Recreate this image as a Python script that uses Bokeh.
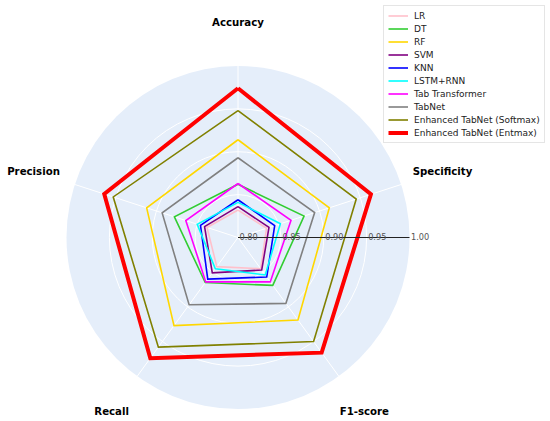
import numpy as np
from bokeh.plotting import figure
from bokeh.models import Range1d
from bokeh.embed import file_html
from bokeh.resources import INLINE
from bokeh.core.properties import value

# ---------------- data ----------------
categories = ["Accuracy", "Specificity", "F1-score", "Recall", "Precision"]
models = ["LR", "DT", "RF", "SVM", "KNN", "LSTM+RNN", "Tab Transformer",
          "TabNet", "Enhanced TabNet (Softmax)", "Enhanced TabNet (Entmax)"]
colors = ["#ffc0cb", "#32cd32", "#ffd700", "#800080", "#0000ff", "#00ffff",
          "#ff00ff", "#808080", "#808000", "#ff0000"]

lr_vals = [0.832, 0.835, 0.845, 0.842, 0.838]
dt_vals = [0.862, 0.881, 0.869, 0.865, 0.878]
rf_vals = [0.914, 0.912, 0.919, 0.927, 0.912]
svm_vals = [0.836, 0.838, 0.847, 0.851, 0.841]
knn_vals = [0.844, 0.845, 0.857, 0.860, 0.846]
lstm_vals = [0.841, 0.852, 0.854, 0.845, 0.850]
tabtr_vals = [0.863, 0.865, 0.864, 0.864, 0.864]
tabnet_vals = [0.893, 0.894, 0.895, 0.897, 0.893]
softmax_vals = [0.948, 0.945, 0.950, 0.958, 0.953]
entmax_vals = [0.974, 0.963, 0.966, 0.974, 0.964]
series = [lr_vals, dt_vals, rf_vals, svm_vals, knn_vals, lstm_vals,
          tabtr_vals, tabnet_vals, softmax_vals, entmax_vals]

r_ticks = [0.80, 0.85, 0.90, 0.95, 1.00]
tick_labels = ["0.80", "0.85", "0.90", "0.95", "1.00"]
r_min, r_max = 0.80, 1.00

# ---------------- layout ----------------
W, H = 550, 421
R = 171.5            # radius of the outer circle in px
cx, cy = 237.5, 237  # centre, from the top-left of the figure

p = figure(width=W, height=H,
           x_range=Range1d(-cx, W - cx), y_range=Range1d(-(H - cy), cy),
           output_backend="svg", toolbar_location=None, min_border=0,
           x_axis_location=None, y_axis_location=None)
p.grid.visible = False
p.outline_line_color = None
p.background_fill_color = "white"


def rad(v):
    return (np.asarray(v, dtype=float) - r_min) / (r_max - r_min) * R


n = len(categories)
theta = np.pi / 2 - np.arange(n) * 2 * np.pi / n

# background disc
p.circle(x=[0], y=[0], radius=R, fill_color="#e5eefa", line_color=None)
# grid circles
for t in r_ticks[1:-1]:
    p.circle(x=[0], y=[0], radius=float(rad(t)), fill_color=None,
             line_color="white", line_width=1)
# spokes
p.segment(x0=np.zeros(n), y0=np.zeros(n), x1=R * np.cos(theta),
          y1=R * np.sin(theta), line_color="white", line_width=1)

# series
for name, col, vals in zip(models, colors, series):
    rr = rad(vals)
    xs = list(rr * np.cos(theta)) + [rr[0] * np.cos(theta[0])]
    ys = list(rr * np.sin(theta)) + [rr[0] * np.sin(theta[0])]
    lw = 4 if "Entmax" in name else 1.6
    p.line(xs, ys, line_color=col, line_width=lw, line_join="miter",
           legend_label=name)

# radial axis line and tick labels
p.segment(x0=[0], y0=[0], x1=[R], y1=[0], line_color="#222222", line_width=1.1)
p.text(x=list(rad(r_ticks) + 1.5), y=[1.5] * len(r_ticks), text=tick_labels,
       text_font=value("DejaVu Sans"), text_font_size="8.2px",
       text_color="#555555", text_align="left", text_baseline="alphabetic")

# category labels
r_lab = 215
p.text(x=list(r_lab * np.cos(theta)), y=list(r_lab * np.sin(theta)),
       text=categories, text_font=value("DejaVu Sans"), text_font_style="bold",
       text_font_size="10.2px", text_color="black", text_align="center",
       text_baseline="middle")

# legend
lg = p.legend[0]
lg.location = (383, 278)
lg.margin = 0
lg.padding = 4
lg.spacing = 2
lg.label_height = 11
lg.glyph_height = 11
lg.glyph_width = 20
lg.label_standoff = 6
lg.label_text_font = "DejaVu Sans"
lg.label_text_font_size = "9px"
lg.label_text_color = "#222222"
lg.border_line_color = "#cccccc"
lg.border_line_width = 1
lg.background_fill_color = "white"
lg.background_fill_alpha = 0.8

open("out.html", "w").write(file_html(p, INLINE))
